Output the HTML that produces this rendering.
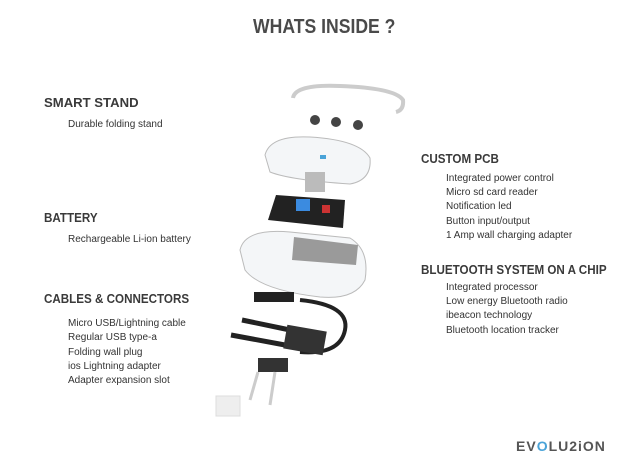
<!DOCTYPE html>
<html><head><style>
body{margin:0;width:620px;height:465px;background:#fff;position:relative;overflow:hidden;font-family:"Liberation Sans",sans-serif;color:#444}
.t{position:absolute;white-space:nowrap;transform-origin:0 0}
.h{font-weight:bold;font-size:12.5px;color:#3a3a3a;transform:scaleX(0.93)}
.s{font-size:10px;color:#333}
</style></head><body>
<div class="t" style="left:253px;top:16px;font-size:20px;font-weight:bold;color:#4a4a4a;transform:scaleX(0.88)">WHATS INSIDE ?</div>
<div class="t h" style="left:44px;top:96px;transform:scaleX(1.05)">SMART STAND</div>
<div class="t s" style="left:68px;top:119px">Durable folding stand</div>
<div class="t h" style="left:44px;top:211px">BATTERY</div>
<div class="t s" style="left:68px;top:234px">Rechargeable Li-ion battery</div>
<div class="t h" style="left:44px;top:292px">CABLES &amp; CONNECTORS</div>
<div class="t s" style="left:68px;top:317px;line-height:14.3px">Micro USB/Lightning cable<br>Regular USB type-a<br>Folding wall plug<br>ios Lightning adapter<br>Adapter expansion slot</div>
<div class="t h" style="left:421px;top:152px">CUSTOM PCB</div>
<div class="t s" style="left:446px;top:172px;line-height:14.2px">Integrated power control<br>Micro sd card reader<br>Notification led<br>Button input/output<br>1 Amp wall charging adapter</div>
<div class="t h" style="left:421px;top:263px">BLUETOOTH SYSTEM ON A CHIP</div>
<div class="t s" style="left:446px;top:281px;line-height:14.2px">Integrated processor<br>Low energy Bluetooth radio<br>ibeacon technology<br>Bluetooth location tracker</div>
<div class="t" style="left:516px;top:438px;font-size:14px;font-weight:bold;color:#555;letter-spacing:1px">EV<span style="color:#4aa3d8">O</span>LU2iON</div>
<svg width="620" height="465" style="position:absolute;left:0;top:0">
<path d="M293 98 Q295 84 340 86 Q395 88 403 100 Q404 110 396 112" fill="none" stroke="#ccc" stroke-width="4"/>
<circle cx="315" cy="120" r="5" fill="#444"/><circle cx="336" cy="122" r="5" fill="#444"/><circle cx="358" cy="125" r="5" fill="#444"/>
<path d="M265 155 Q270 135 310 137 Q360 140 370 158 Q372 180 350 184 Q290 180 270 172 Z" fill="#f4f6f8" stroke="#bbb"/>
<rect x="320" y="155" width="6" height="4" fill="#4aa3d8"/>
<rect x="305" y="172" width="20" height="20" fill="#bbb"/>
<path d="M276 195 L345 200 L343 228 L268 220 Z" fill="#222"/>
<rect x="296" y="199" width="14" height="12" fill="#3b8be0"/>
<rect x="322" y="205" width="8" height="8" fill="#c33"/>
<path d="M240 250 Q245 228 290 232 L350 238 Q370 250 365 280 Q355 300 320 297 Q260 290 245 270 Z" fill="#f4f6f8" stroke="#bbb"/>
<path d="M294 237 L358 245 L356 265 L292 260 Z" fill="#9a9a9a"/>
<rect x="254" y="292" width="40" height="10" fill="#222"/>
<path d="M300 300 Q350 305 345 330 Q340 355 300 352" fill="none" stroke="#222" stroke-width="4"/>
<path d="M242 320 L290 330 M231 335 L285 345" stroke="#222" stroke-width="5"/>
<rect x="285" y="328" width="40" height="24" fill="#333" transform="rotate(10 305 340)"/>
<rect x="258" y="358" width="30" height="14" fill="#333"/>
<path d="M258 372 L250 400 M275 372 L270 405" stroke="#ccc" stroke-width="3"/>
<rect x="216" y="396" width="24" height="20" fill="#eee" stroke="#ddd"/>
</svg>
</body></html>
